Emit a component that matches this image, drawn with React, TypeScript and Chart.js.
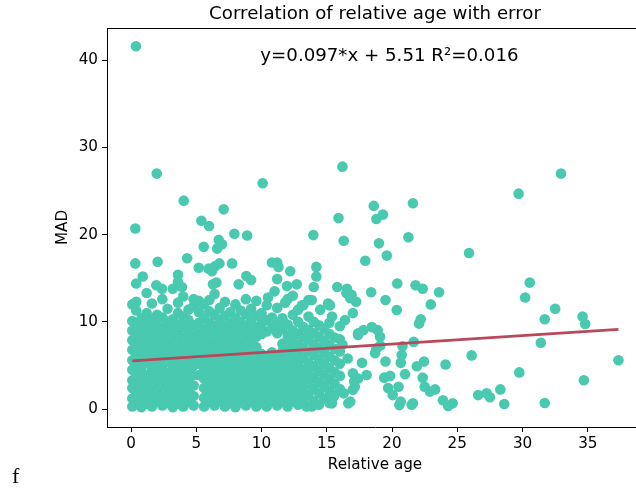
import React, { useEffect, useRef } from "react";
import { Chart, registerables } from "chart.js";

Chart.register(...registerables);

const chartTitle = "Correlation of relative age with error";
const xAxisLabel = "Relative age";
const yAxisLabel = "MAD";
const xTickValues = [0, 5, 10, 15, 20, 25, 30, 35];
const yTickValues = [0, 10, 20, 30, 40];
const trendSlope = 0.097;
const trendIntercept = 5.51;
const fitLabel = "y=0.097*x + 5.51 R\u00b2=0.016";
const strayText = "f";

// dense body of the cloud: [relative age, MAD values at that age]
const denseColumns: [number, number[]][] = [
  [0.1, [0.3, 1.2, 2.4, 3.3, 4.5, 5.6, 6.8, 7.9, 9.0, 10.1, 12.0]],
  [0.4, [0.8, 1.9, 3.0, 4.0, 5.1, 6.2, 7.3, 8.4, 9.5, 11.3, 12.3]],
  [0.8, [0.2, 1.4, 2.5, 3.6, 4.8, 5.9, 7.0, 8.1, 9.2, 10.4]],
  [1.2, [0.6, 1.7, 2.9, 3.9, 5.3, 6.4, 7.6, 8.7, 9.8, 11.0, 13.3]],
  [1.6, [0.3, 1.3, 2.2, 3.4, 4.6, 5.7, 6.9, 8.0, 9.1, 10.3, 12.1]],
  [2.0, [0.9, 2.0, 3.1, 4.2, 5.2, 6.3, 7.4, 8.6, 9.6, 10.8]],
  [2.4, [0.4, 1.5, 2.7, 3.7, 4.9, 6.0, 7.1, 8.2, 9.3, 10.5, 12.6]],
  [2.8, [0.7, 1.8, 2.9, 4.1, 5.4, 6.6, 7.7, 8.9, 10.0, 11.5]],
  [3.2, [0.2, 1.2, 2.3, 3.5, 4.6, 5.8, 6.9, 8.0, 9.2, 10.3, 13.8]],
  [3.6, [0.6, 1.7, 2.8, 4.0, 5.1, 6.2, 7.4, 8.5, 9.7, 11.0, 12.2]],
  [4.0, [0.3, 1.4, 2.5, 3.6, 4.7, 5.9, 7.0, 8.2, 9.4, 10.6, 12.9]],
  [4.4, [0.8, 1.9, 3.1, 4.3, 5.5, 6.6, 7.8, 9.0, 10.2, 11.4]],
  [4.8, [0.4, 1.5, 2.7, 3.9, 5.0, 6.1, 7.3, 8.4, 9.6, 11.8, 12.6]],
  [5.2, [3.9, 5.2, 6.4, 7.5, 8.7, 9.9, 11.1, 12.4]],
  [5.6, [0.3, 1.3, 2.4, 3.5, 4.6, 5.7, 6.9, 8.0, 9.1, 10.4, 12.0]],
  [6.0, [0.8, 1.9, 3.0, 4.2, 5.3, 6.5, 7.6, 8.8, 9.9, 11.2, 12.5]],
  [6.4, [0.4, 1.5, 2.6, 3.8, 4.9, 6.1, 7.2, 8.3, 9.5, 10.8, 13.2]],
  [6.8, [0.9, 2.0, 3.2, 4.4, 5.5, 6.7, 7.8, 9.0, 10.1, 11.6]],
  [7.2, [0.3, 1.4, 2.5, 3.7, 4.8, 6.0, 7.1, 8.3, 9.4, 10.7, 12.3]],
  [7.6, [0.7, 1.8, 2.9, 4.1, 5.2, 6.4, 7.5, 8.7, 9.8, 11.1]],
  [8.0, [0.2, 1.3, 2.4, 3.5, 4.7, 5.8, 7.0, 8.1, 9.3, 10.4, 12.0]],
  [8.4, [0.8, 1.9, 3.0, 4.2, 5.3, 6.5, 7.6, 8.8, 10.0, 11.3]],
  [8.8, [0.4, 1.5, 2.6, 3.8, 4.9, 6.1, 7.2, 8.4, 9.5, 10.9, 12.6]],
  [9.2, [0.9, 2.0, 3.1, 4.3, 5.4, 6.6, 7.7, 8.9, 10.2, 11.5]],
  [9.6, [0.3, 1.4, 2.5, 3.7, 4.8, 6.0, 7.1, 8.3, 9.4, 10.7, 12.4]],
  [10.0, [0.7, 1.8, 3.0, 4.1, 5.2, 6.3, 8.6, 9.8, 11.0]],
  [10.4, [0.3, 1.4, 2.5, 3.6, 4.8, 5.9, 8.9, 10.2, 11.9]],
  [10.8, [0.9, 2.0, 3.1, 4.3, 5.5, 6.5, 9.3, 10.5]],
  [11.2, [0.4, 1.5, 2.6, 3.8, 4.9, 6.1, 8.7, 9.8, 11.6]],
  [11.6, [0.8, 1.9, 3.1, 4.2, 5.4, 6.6, 7.5, 9.2, 10.4]],
  [12.0, [0.3, 1.4, 2.5, 3.7, 4.8, 6.0, 7.2, 8.4, 9.7, 12.6]],
  [12.4, [0.9, 2.0, 3.2, 4.3, 5.5, 6.7, 7.8, 9.0, 10.8]],
  [12.8, [0.5, 1.6, 2.7, 3.9, 5.0, 6.2, 7.4, 8.6, 10.0, 11.4]],
  [13.2, [1.1, 2.2, 3.4, 4.5, 5.8, 7.0, 8.2, 9.4, 11.9]],
  [13.6, [1.6, 2.9, 4.1, 5.3, 6.6, 7.9, 9.1, 10.6, 12.5]],
  [14.0, [0.9, 2.3, 3.6, 4.9, 6.2, 7.4, 8.7, 10.0]],
  [14.4, [0.5, 1.8, 3.1, 4.4, 5.7, 7.0, 8.3, 9.6]],
  [14.8, [1.2, 2.6, 3.9, 5.2, 6.5, 7.8, 9.2]],
  [15.2, [0.7, 2.1, 3.4, 4.7, 6.0, 7.3, 8.6, 9.9, 11.9]],
  [15.6, [1.6, 2.9, 4.2, 5.6, 6.9, 8.2]],
  [16.0, [2.3, 3.8, 5.2, 6.6, 8.0, 9.5]],
];

// scattered points above the dense body
const upperPoints: [number, number][] = [
  [0.38, 41.6], [1.97, 27.0], [0.33, 20.7], [4.04, 23.9], [10.09, 25.9], [16.2, 27.8],
  [7.1, 22.9], [5.39, 21.6], [5.98, 21.0], [7.92, 20.1], [8.9, 19.9], [13.97, 19.95],
  [15.9, 21.9], [16.3, 19.3], [5.57, 18.6], [6.72, 19.4], [6.6, 18.4], [6.97, 18.9],
  [0.33, 16.7], [2.04, 16.9], [4.3, 17.3], [5.19, 16.2], [5.95, 16.1], [6.2, 15.8],
  [6.46, 16.4], [6.77, 16.7], [7.74, 16.7], [10.8, 16.8], [11.2, 16.8], [11.3, 16.3],
  [12.2, 15.8], [14.2, 16.3], [14.2, 15.2], [17.95, 17.0], [0.9, 15.2], [0.4, 14.4],
  [1.94, 14.2], [2.37, 13.8], [3.6, 15.4], [3.6, 14.6], [3.9, 14.0], [6.28, 14.3],
  [6.54, 14.5], [8.25, 14.3], [8.84, 15.25], [9.2, 14.8], [11.2, 14.9], [11.95, 14.1],
  [12.7, 14.3], [14.0, 14.0], [15.8, 14.0], [16.55, 13.8], [10.5, 12.8], [11.0, 13.5],
  [11.8, 12.2], [12.4, 13.0], [13.85, 12.5], [13.1, 11.9], [15.25, 11.9],
];

// scattered points at higher ages
const sparsePoints: [number, number][] = [
  [32.95, 27.0], [29.7, 24.7], [18.6, 23.3], [19.3, 22.3], [18.8, 21.8], [21.6, 23.6],
  [21.25, 19.7], [19.0, 19.0], [19.6, 17.6], [25.9, 17.9], [30.55, 14.5], [20.4, 14.4],
  [21.8, 14.2], [22.35, 13.8], [23.6, 13.4], [18.4, 13.4], [30.2, 12.8], [32.5, 11.5],
  [31.7, 10.3], [34.6, 10.6], [34.8, 9.75], [31.4, 7.6], [37.35, 5.6], [26.1, 6.15],
  [29.75, 4.2], [34.7, 3.3], [28.3, 2.25], [26.6, 1.6], [27.25, 1.8], [27.5, 1.35],
  [28.6, 0.57], [31.7, 0.7], [24.1, 5.1], [23.9, 1.0], [24.65, 0.65], [24.3, 0.35],
  [22.97, 12.0], [22.2, 10.3], [22.07, 9.8], [20.36, 11.35], [19.5, 12.5], [21.66, 7.7],
  [20.8, 7.2], [20.74, 6.2], [20.67, 5.3], [19.5, 5.45], [19.4, 3.6], [19.85, 3.8],
  [21.0, 4.0], [22.35, 3.6], [21.9, 4.9], [22.45, 5.45], [22.5, 2.55], [22.9, 2.0],
  [23.3, 2.25], [19.7, 2.4], [20.5, 2.55], [20.05, 1.6], [20.56, 0.45], [20.67, 0.85],
  [21.6, 0.65], [21.5, 0.5], [17.7, 5.3], [17.0, 4.1], [17.1, 3.15], [17.4, 3.5],
  [18.05, 3.9], [17.0, 2.2], [17.15, 2.55], [16.65, 0.65], [16.8, 0.85], [15.4, 0.65],
  [15.5, 1.4], [13.46, 0.3], [13.85, 0.3], [18.9, 9.05], [18.45, 9.4], [17.8, 9.05],
  [17.4, 8.5], [19.08, 8.3], [18.8, 6.95], [18.7, 6.4], [19.1, 7.3], [16.5, 13.3],
  [16.9, 13.1], [17.25, 12.3], [17.0, 11.0], [15.1, 12.1], [15.4, 10.6], [14.5, 11.4],
  [16.8, 12.7], [17.4, 8.7], [16.4, 10.2], [16.2, 7.4], [16.6, 5.8], [16.3, 1.8],
];

const markerColor = "#48c9b0";
const lineColor = "#b8485b";
const FONT = '"DejaVu Sans", "Liberation Sans", sans-serif';

const extrasPlugin = {
  id: "extras",
  afterDraw(chart: any) {
    const { ctx, chartArea: a, scales } = chart;
    ctx.save();
    ctx.strokeStyle = "#000";
    ctx.lineWidth = 1;
    ctx.beginPath();
    ctx.moveTo(a.left, a.top + 0.5);
    ctx.lineTo(a.right, a.top + 0.5);
    ctx.stroke();
    ctx.fillStyle = "#000";
    ctx.textAlign = "center";
    ctx.textBaseline = "alphabetic";
    ctx.font = `18.2px ${FONT}`;
    ctx.fillText(chartTitle, (a.left + a.right) / 2, 19);
    ctx.fillText(fitLabel, scales.x.getPixelForValue(19.8), scales.y.getPixelForValue(39.9));
    ctx.restore();
  },
};

export default function App() {
  const ref = useRef<HTMLCanvasElement | null>(null);

  useEffect(() => {
    if (!ref.current) return;
    const points: { x: number; y: number }[] = [];
    denseColumns.forEach(([age, vals]) => vals.forEach((v) => points.push({ x: age, y: v })));
    upperPoints.forEach(([x, y]) => points.push({ x, y }));
    sparsePoints.forEach(([x, y]) => points.push({ x, y }));
    const ages = points.map((p) => p.x);
    const minAge = Math.min(...ages);
    const maxAge = Math.max(...ages);
    const trend = [
      { x: minAge, y: trendIntercept + trendSlope * minAge },
      { x: maxAge, y: trendIntercept + trendSlope * maxAge },
    ];

    const tickFont = { family: FONT, size: 15.2 };
    const chart = new Chart(ref.current, {
      type: "scatter",
      data: {
        datasets: [
          {
            type: "line",
            data: trend,
            borderColor: lineColor,
            borderWidth: 2.6,
            pointRadius: 0,
            fill: false,
            order: 0,
          } as any,
          {
            data: points,
            backgroundColor: markerColor,
            pointBackgroundColor: markerColor,
            pointBorderWidth: 0,
            pointRadius: 5.3,
            order: 1,
          },
        ],
      },
      plugins: [extrasPlugin],
      options: {
        animation: false,
        responsive: false,
        devicePixelRatio: 1,
        layout: { padding: { top: 28, left: 0, right: 17, bottom: 0 } },
        plugins: { legend: { display: false }, title: { display: false }, tooltip: { enabled: false } },
        scales: {
          x: {
            type: "linear",
            min: -1.84,
            max: 39.23,
            afterBuildTicks: (s: any) => {
              s.ticks = xTickValues.map((v) => ({ value: v }));
            },
            afterFit: (s: any) => {
              s.height = 64;
            },
            ticks: { font: tickFont, color: "#000", padding: 3 },
            grid: { drawOnChartArea: false, drawTicks: true, tickLength: 5, color: "#000", tickWidth: 1 },
            border: { display: true, color: "#000", width: 1 },
            title: { display: true, text: xAxisLabel, font: tickFont, color: "#000", padding: { top: 0, bottom: 16.8 } },
          },
          y: {
            type: "linear",
            min: -2.06,
            max: 43.7,
            afterBuildTicks: (s: any) => {
              s.ticks = yTickValues.map((v) => ({ value: v }));
            },
            afterFit: (s: any) => {
              s.width = 107;
            },
            ticks: { font: tickFont, color: "#000", padding: 4 },
            grid: { drawOnChartArea: false, drawTicks: true, tickLength: 5, color: "#000", tickWidth: 1 },
            border: { display: true, color: "#000", width: 1 },
            title: { display: true, text: yAxisLabel, font: tickFont, color: "#000", padding: { top: 53.8, bottom: 0 } },
          },
        },
      },
    } as any);
    return () => chart.destroy();
  }, []);

  return (
    <div style={{ position: "fixed", left: 0, top: 0, width: 636, height: 491, overflow: "hidden", background: "#fff" }}>
      <canvas ref={ref} width={660} height={491} style={{ position: "absolute", left: 0, top: 0, width: 660, height: 491 }} />
      <div style={{ position: "absolute", left: 12, top: 463, fontFamily: "serif", fontSize: 22 }}>{strayText}</div>
    </div>
  );
}
